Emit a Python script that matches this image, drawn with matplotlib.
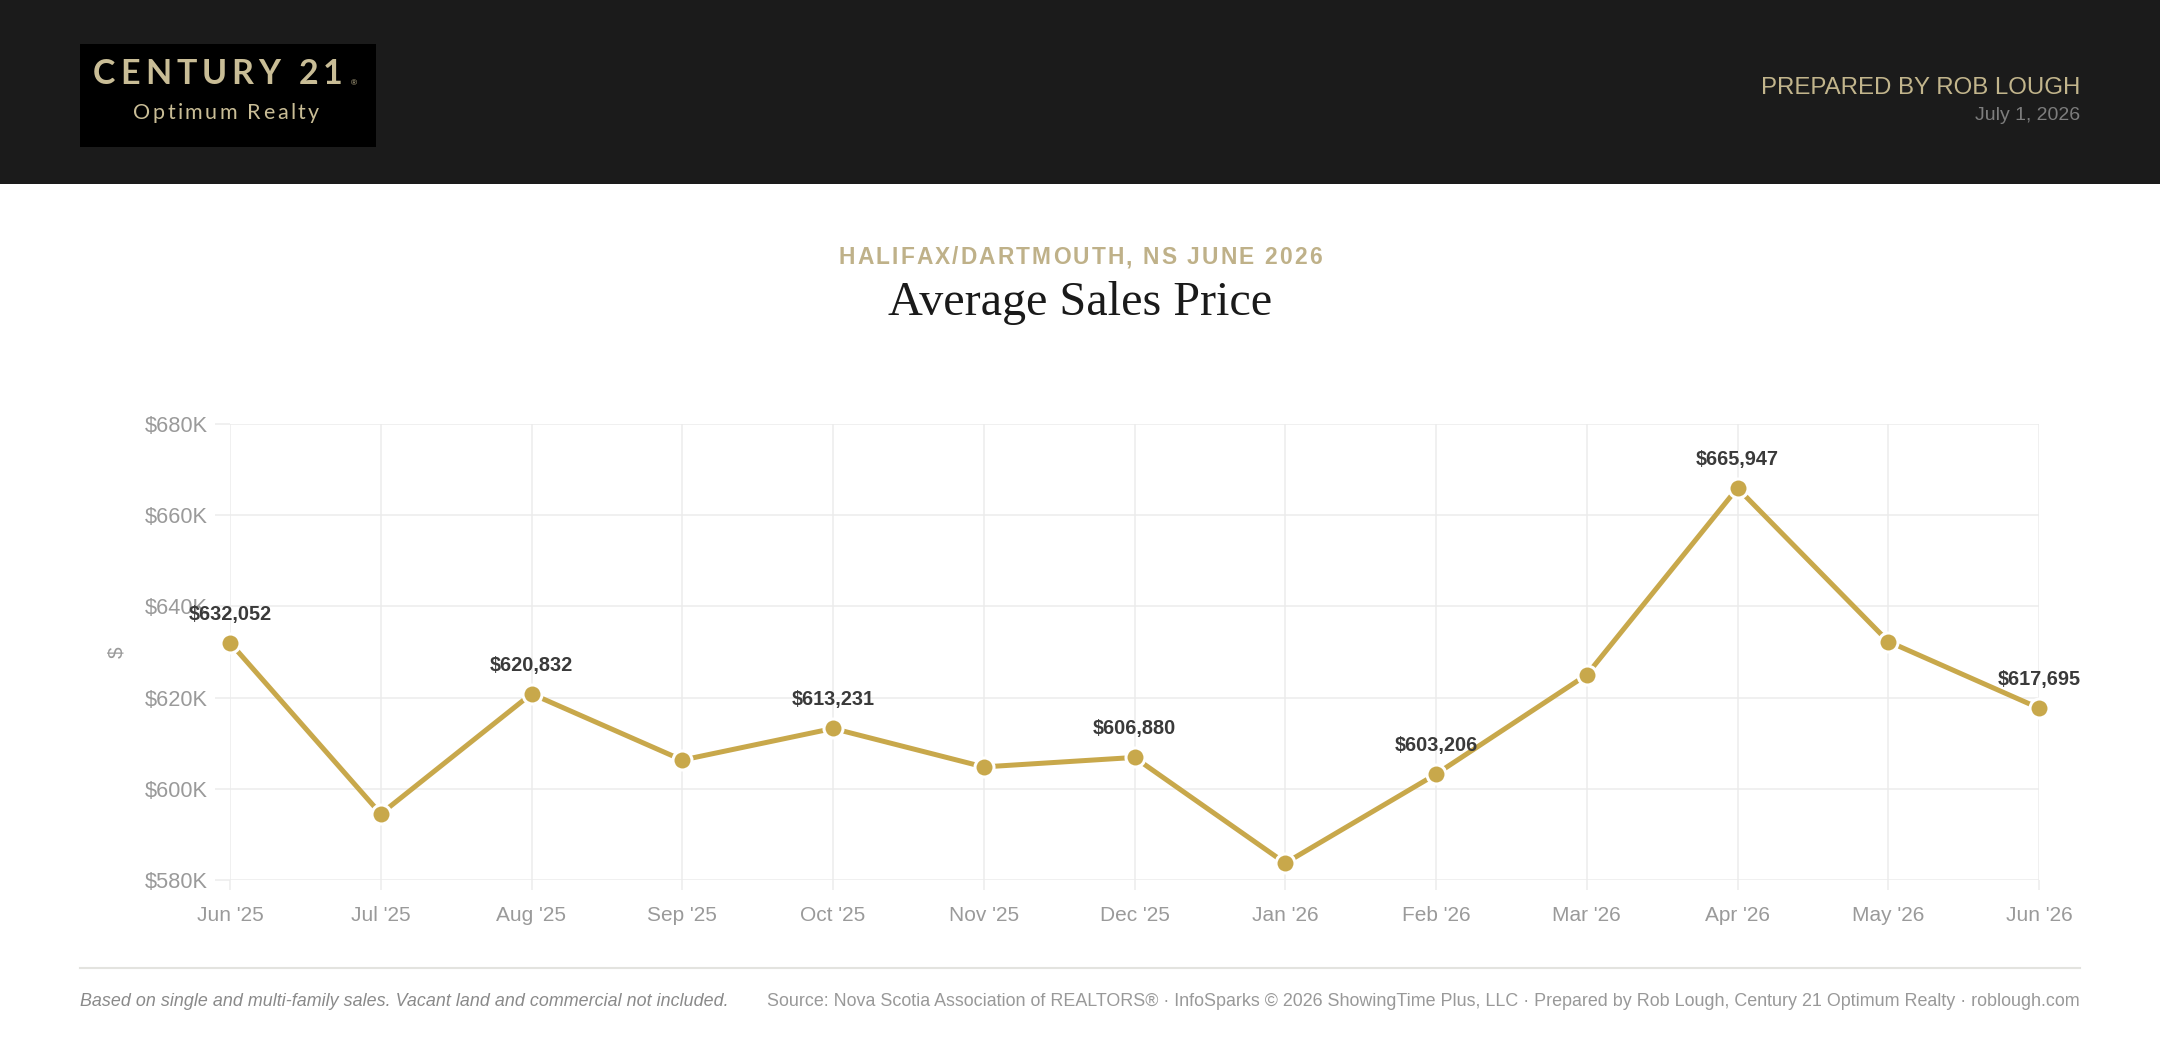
import numpy as np
import matplotlib
matplotlib.use("Agg")
from matplotlib import pyplot as plt
from matplotlib.patches import Rectangle
from matplotlib.lines import Line2D
from matplotlib.font_manager import FontProperties, findfont, get_font
import matplotlib.ticker as ticker

# ----- Data ----- #
months = ["Jun '25", "Jul '25", "Aug '25", "Sep '25", "Oct '25", "Nov '25", "Dec '25",
          "Jan '26", "Feb '26", "Mar '26", "Apr '26", "May '26", "Jun '26"]
avg_price = [632052, 594500, 620832, 606300, 613231, 604800, 606880,
             583700, 603206, 625000, 665947, 632300, 617695]
show_label = [True, False, True, False, True, False, True,
              False, True, False, True, False, True]
y_ticks = [580000, 600000, 620000, 640000, 660000, 680000]

subtitle = "HALIFAX/DARTMOUTH, NS JUNE 2026"
title = "Average Sales Price"
note_left = "Based on single and multi-family sales. Vacant land and commercial not included."
note_right = ("Source: Nova Scotia Association of REALTORS\u00ae \u00b7 InfoSparks \u00a9 2026 "
              "ShowingTime Plus, LLC \u00b7 Prepared by Rob Lough, Century 21 Optimum Realty \u00b7 roblough.com")

# ----- Styles ----- #
W, H = 2160, 1048
gold = '#c8a84b'
tan = '#c2b58c'
logo_c = '#c9bd96'
sans = 'Liberation Sans'

plt.rcParams['font.family'] = [sans, 'DejaVu Sans']

fig = plt.figure(figsize=(W/100, H/100), dpi=100)
fig.patch.set_facecolor('white')


def fx(x):
    return x / W


def fy(y):
    return 1 - y / H


def spaced_text(xc, y, s, spacing, size, family, weight='normal', color='k'):
    # draw text char by char with extra letter spacing (pixels), centred at xc
    prop = FontProperties(family=family, weight=weight, size=size)
    font = get_font(findfont(prop))
    font.set_size(size, 100)
    adv = []
    for ch in s:
        g = font.load_char(ord(ch))
        adv.append(g.linearHoriAdvance / 65536.)
    total = sum(adv) + spacing*(len(s)-1)
    x = xc - total/2.
    for ch, a in zip(s, adv):
        fig.text(fx(x), fy(y), ch, fontproperties=prop, color=color,
                 ha='left', va='center')
        x += a + spacing


# ----- Header ----- #
fig.patches.append(Rectangle((0, fy(184)), 1, 184/H, transform=fig.transFigure,
                             facecolor='#1b1b1b', edgecolor='none', zorder=0))
fig.patches.append(Rectangle((fx(80), fy(147)), (376-80)/W, (147-44)/H, transform=fig.transFigure,
                             facecolor='#000000', edgecolor='none', zorder=1))
spaced_text(218, 74, "CENTURY 21", 4.9, 24.5, 'Lato', weight='bold', color=logo_c)
fig.text(fx(351), fy(84), "\u00ae", fontsize=6, color=logo_c, ha='left', va='center')
spaced_text(226, 113, "Optimum Realty", 2.4, 15.5, 'Lato', color=logo_c)

fig.text(fx(2080), fy(87.5), "PREPARED BY ROB LOUGH", fontsize=17.3, color=tan,
         ha='right', va='center')
fig.text(fx(2080), fy(115), "July 1, 2026", fontsize=14, color='#7d7d7d',
         ha='right', va='center')

# ----- Titles ----- #
spaced_text(1080, 258, subtitle, 2.1, 16.4, sans, weight='bold', color='#bfb189')
fig.text(fx(1080), fy(303), title, fontsize=34.7, family='Liberation Serif',
         color='#1a1a1a', ha='center', va='center')

# ----- Chart ----- #
ax = fig.add_axes([fx(230), fy(880), (2039-230)/W, (880-424)/H])
xx = np.arange(len(months))
ax.plot(xx, avg_price, color=gold, lw=3.6, marker='o', ms=13.7, mfc=gold,
        mec='white', mew=2.2, clip_on=False, zorder=3)

for i in xx:
    if show_label[i]:
        ax.annotate(f"${avg_price[i]:,.0f}", (i, avg_price[i]), xytext=(0, 20.6),
                    textcoords='offset points', ha='center', va='center',
                    fontsize=14.3, fontweight='bold', color='#3a3a3a', zorder=4)

ax.set_xlim(0, len(months)-1)
ax.set_ylim(y_ticks[0], y_ticks[-1])
ax.set_xticks(xx)
ax.set_xticklabels(months)
ax.set_yticks(y_ticks)
ax.yaxis.set_major_formatter(ticker.FuncFormatter(lambda v, p: f"${v/1000:.0f}K"))
ax.grid(True, color='#ececec', lw=1.1)
ax.set_axisbelow(True)
for s in ax.spines.values():
    s.set_visible(False)
ax.tick_params(axis='y', length=10.8, width=1.1, color='#ececec', pad=5,
               labelsize=15.7, labelcolor='#9a9a9a')
ax.tick_params(axis='x', length=7, width=1.1, color='#ececec', pad=12,
               labelsize=15, labelcolor='#9a9a9a')

fig.text(fx(117), fy(652), "$", fontsize=15, color='#9a9a9a', rotation=90,
         ha='center', va='center')

# ----- Footer ----- #
fig.lines.append(Line2D([fx(80), fx(2080)], [fy(968), fy(968)], transform=fig.transFigure,
                        color='#e3e3df', lw=1.5))
fig.text(fx(80), fy(1002), note_left, fontsize=12.9, style='italic', color='#8a8a8a',
         ha='left', va='center')
fig.text(fx(2080), fy(1002), note_right, fontsize=12.9, color='#999999',
         ha='right', va='center')

plt.savefig('out.png', dpi=100)
plt.close()
